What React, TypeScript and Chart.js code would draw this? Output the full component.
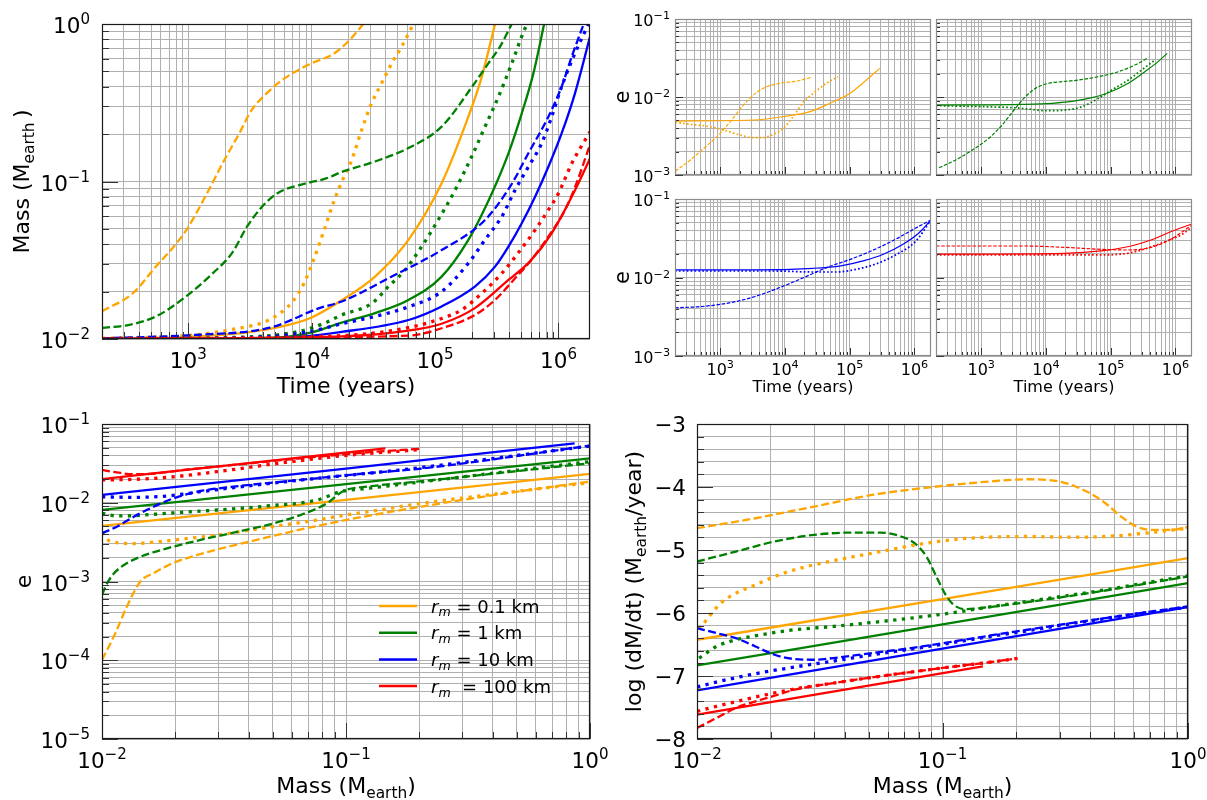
import React, { useEffect, useRef } from 'react';
import { Chart, registerables } from 'chart.js';
Chart.register(...registerables);

type P = [number, number];
const FONT = '"DejaVu Sans", sans-serif';

// ---------------- axis ranges & tick labels ----------------
const T_MIN = 200;
const T_MAX = 1.8e6;
const TIME_TICK_LABELS = [1e3, 1e4, 1e5, 1e6];
const MASS_TL_TICK_LABELS = [1e-2, 1e-1, 1];
const E_TR_TICK_LABELS = [1e-3, 1e-2, 1e-1];
const E_BL_TICK_LABELS = [1e-5, 1e-4, 1e-3, 1e-2, 1e-1];
const MASS_B_TICK_LABELS = [1e-2, 1e-1, 1];
const RATE_TICK_LABELS = [-8, -7, -6, -5, -4, -3];
const LEGEND_LABELS = [' = 0.1 km', ' = 1 km', ' = 10 km', '  = 100 km'];

// ---------------- Top-left: Mass vs Time [t, M] ----------------
const tlOrangeSolid: P[] = [[200, 0.01], [1000, 0.0103], [3000, 0.011], [6000, 0.0121], [10000, 0.0137], [17500, 0.0176], [32600, 0.0249], [60800, 0.0426], [113000, 0.0975], [186000, 0.258], [239000, 0.462], [306000, 1.0]];
const tlOrangeDashed: P[] = [[200, 0.015], [358, 0.0196], [547, 0.0289], [727, 0.0369], [966, 0.0493], [1375, 0.0803], [1960, 0.137], [2600, 0.203], [3220, 0.28], [4275, 0.36], [5680, 0.437], [9300, 0.549], [15300, 0.652], [20300, 0.792], [26200, 1.0]];
const tlOrangeDotted: P[] = [[200, 0.0101], [1110, 0.0106], [2260, 0.0115], [4590, 0.0133], [7020, 0.0173], [8680, 0.0226], [10360, 0.0318], [12370, 0.047], [15300, 0.0765], [17600, 0.1], [21100, 0.137], [25400, 0.212], [30600, 0.314], [36900, 0.421], [44500, 0.562], [53600, 0.718], [66700, 1.0]];
const tlGreenSolid: P[] = [[200, 0.01], [5000, 0.0102], [10000, 0.011], [17500, 0.0127], [32600, 0.0146], [60800, 0.0177], [113000, 0.0249], [186000, 0.0426], [288000, 0.084], [393000, 0.151], [504000, 0.271], [626000, 0.486], [765000, 1.0]];
const tlGreenDashed: P[] = [[200, 0.01175], [333, 0.0123], [547, 0.0139], [966, 0.0187], [1585, 0.0262], [2260, 0.0351], [3000, 0.0518], [3980, 0.0694], [5280, 0.0843], [8100, 0.0953], [13270, 0.105], [17500, 0.115], [32600, 0.134], [60800, 0.163], [113000, 0.223], [204000, 0.41], [270000, 0.562], [336000, 0.718], [418000, 1.0]];
const tlGreenDotted: P[] = [[200, 0.01], [3000, 0.0103], [8000, 0.0112], [13000, 0.0127], [17500, 0.0142], [30600, 0.0168], [41800, 0.0215], [57000, 0.0274], [77800, 0.0386], [106000, 0.057], [145000, 0.088], [198000, 0.144], [254000, 0.223], [326000, 0.345], [418000, 0.562], [536000, 0.94], [560000, 1.0]];
const tlBlueSolid: P[] = [[200, 0.01], [5000, 0.0101], [17500, 0.0111], [60800, 0.0132], [113000, 0.0161], [210000, 0.0215], [306000, 0.0288], [393000, 0.0386], [504000, 0.0543], [646000, 0.08], [828000, 0.124], [1.06e6, 0.202], [1.36e6, 0.363], [1.8e6, 0.83]];
const tlBlueDashed: P[] = [[200, 0.0101], [1110, 0.0106], [4590, 0.0118], [11530, 0.0157], [17500, 0.0173], [44500, 0.0249], [113000, 0.0367], [254000, 0.057], [405000, 0.0927], [570000, 0.151], [828000, 0.258], [1.06e6, 0.4], [1.28e6, 0.62], [1.6e6, 1.0]];
const tlBlueDotted: P[] = [[200, 0.01], [4000, 0.0103], [10000, 0.0112], [17500, 0.0125], [32600, 0.0139], [60800, 0.016], [113000, 0.02], [186000, 0.0303], [254000, 0.0427], [347000, 0.0598], [445000, 0.0883], [570000, 0.124], [731000, 0.175], [881000, 0.258], [1.06e6, 0.4], [1.36e6, 0.652], [1.75e6, 1.0]];
const tlRedSolid: P[] = [[200, 0.01], [17500, 0.0104], [60800, 0.0113], [113000, 0.0125], [210000, 0.0157], [393000, 0.0237], [585000, 0.031], [880000, 0.0469], [1.36e6, 0.088], [1.8e6, 0.14]];
const tlRedDashed: P[] = [[200, 0.01], [60800, 0.0105], [113000, 0.0117], [210000, 0.0142], [306000, 0.0177], [445000, 0.0243], [587000, 0.031], [881000, 0.048], [1.13e6, 0.066], [1.36e6, 0.092], [1.8e6, 0.171]];
const tlRedDotted: P[] = [[200, 0.01], [17500, 0.0105], [60800, 0.0118], [113000, 0.0135], [164000, 0.0153], [239000, 0.0195], [347000, 0.0261], [504000, 0.0377], [646000, 0.0492], [828000, 0.066], [998000, 0.084], [1.28e6, 0.13], [1.8e6, 0.207]];

// ---------------- Top-right: e vs Time [t, e] ----------------
const trOrangeSolid: P[] = [[200, 0.00492], [3260, 0.00507], [10600, 0.0057], [24300, 0.00649], [49300, 0.0083], [100000, 0.0111], [181000, 0.0165], [290000, 0.0233]];
const trOrangeDashed: P[] = [[203, 0.00112], [345, 0.00156], [555, 0.0022], [889, 0.0031], [1425, 0.00482], [2285, 0.00789], [3660, 0.01148], [5220, 0.01355], [8380, 0.015], [15100, 0.016], [25700, 0.0179]];
const trOrangeDotted: P[] = [[203, 0.00474], [345, 0.00447], [701, 0.00416], [1270, 0.00366], [2030, 0.00326], [3260, 0.00301], [4640, 0.00301], [6620, 0.00333], [9420, 0.00397], [13400, 0.0056], [19100, 0.00855], [27300, 0.0111], [43700, 0.015], [66000, 0.0182]];
const trGreenSolid: P[] = [[200, 0.00789], [4280, 0.00805], [12400, 0.0083], [28200, 0.0089], [51000, 0.0098], [91900, 0.01135], [187000, 0.015], [337000, 0.0211], [540000, 0.0284], [743000, 0.0363]];
const trGreenDashed: P[] = [[223, 0.00124], [403, 0.00156], [728, 0.00209], [1310, 0.00296], [2100, 0.00438], [3370, 0.00716], [4810, 0.0101], [6850, 0.0129], [11000, 0.015], [17600, 0.0157], [31800, 0.0165], [64600, 0.0182], [131000, 0.0211], [237000, 0.0257], [380000, 0.0319]];
const trGreenDotted: P[] = [[200, 0.00775], [1160, 0.0075], [3000, 0.0073], [5400, 0.00702], [9770, 0.00667], [19800, 0.0068], [35800, 0.0075], [64600, 0.0096], [103600, 0.0123], [187000, 0.0165], [300000, 0.0222], [481000, 0.0298]];
const trBlueSolid: P[] = [[200, 0.01247], [3370, 0.01247], [27300, 0.0131], [72600, 0.0141], [167000, 0.0164], [337000, 0.0199], [676000, 0.0267], [1.18e6, 0.0372], [1.8e6, 0.054]];
const trBlueDashed: P[] = [[200, 0.00412], [478, 0.00425], [1270, 0.00469], [3370, 0.00569], [8950, 0.00764], [20700, 0.0102], [47700, 0.01374], [95900, 0.0167], [221000, 0.022], [512000, 0.0307], [1.03e6, 0.0424], [1.8e6, 0.054]];
const trBlueDotted: P[] = [[200, 0.0121], [6760, 0.0121], [27300, 0.01175], [63000, 0.01175], [127000, 0.01274], [255000, 0.0149], [512000, 0.0194], [1.03e6, 0.0286], [1.8e6, 0.054]];
const trRedSolid: P[] = [[200, 0.0198], [19000, 0.0203], [77600, 0.022], [207000, 0.0252], [419000, 0.03], [845000, 0.0383], [1.8e6, 0.0481]];
const trRedDashed: P[] = [[200, 0.0252], [4690, 0.0252], [19000, 0.0242], [77600, 0.0228], [180000, 0.0224], [419000, 0.0242], [845000, 0.0307], [1.8e6, 0.0467]];
const trRedDotted: P[] = [[200, 0.0194], [77600, 0.0194], [180000, 0.0203], [364000, 0.0236], [735000, 0.0292], [1.29e6, 0.0358], [1.8e6, 0.0443]];

// ---------------- Bottom-left: e vs Mass [M, e] ----------------
const blOrangeSolid: P[] = [[0.01, 0.00508], [0.1, 0.0109], [1.0, 0.0232]];
const blOrangeDashed: P[] = [[0.01, 0.000101], [0.01135, 0.000221], [0.01265, 0.000482], [0.01436, 0.001], [0.0163, 0.00128], [0.0195, 0.00171], [0.0261, 0.00229], [0.0402, 0.00321], [0.069, 0.00475], [0.119, 0.00668], [0.204, 0.00894], [0.406, 0.01256], [1.0, 0.0186]];
const blOrangeDotted: P[] = [[0.01, 0.0042], [0.01047, 0.00345], [0.0115, 0.00311], [0.0135, 0.00303], [0.0158, 0.00313], [0.0216, 0.00347], [0.0296, 0.00389], [0.0406, 0.00451], [0.0555, 0.00521], [0.076, 0.00604], [0.104, 0.00713], [0.143, 0.00826], [0.195, 0.00964], [0.4, 0.0128], [1.0, 0.018]];
const blGreenSolid: P[] = [[0.01, 0.0081], [0.1, 0.0172], [1.0, 0.0366]];
const blGreenDashed: P[] = [[0.01, 0.000675], [0.0105, 0.00095], [0.0112, 0.00127], [0.0123, 0.00162], [0.0144, 0.00207], [0.0185, 0.00264], [0.0253, 0.00337], [0.0346, 0.00417], [0.0475, 0.00521], [0.065, 0.00698], [0.0836, 0.00984], [0.098, 0.0142], [0.122, 0.016], [0.195, 0.0185], [1.0, 0.0317]];
const blGreenDotted: P[] = [[0.01, 0.00735], [0.0115, 0.0068], [0.0135, 0.00686], [0.0185, 0.00735], [0.0296, 0.00809], [0.0475, 0.0091], [0.076, 0.0108], [0.0948, 0.0138], [0.122, 0.0152], [1.0, 0.0333]];
const blBlueSolid: P[] = [[0.01, 0.01257], [0.1, 0.0272], [0.865, 0.0569]];
const blBlueDashed: P[] = [[0.01, 0.00409], [0.0115, 0.00497], [0.0135, 0.00665], [0.0158, 0.0085], [0.0185, 0.0106], [0.0216, 0.0125], [0.0253, 0.0141], [0.0346, 0.016], [0.065, 0.0195], [0.122, 0.0237], [0.195, 0.0268], [1.0, 0.053]];
const blBlueDotted: P[] = [[0.01, 0.0119], [0.0135, 0.0117], [0.0185, 0.0122], [0.0253, 0.0138], [0.0406, 0.0165], [0.076, 0.0204], [0.167, 0.0261], [1.0, 0.0525]];
const blRedSolid: P[] = [[0.01, 0.02], [0.04, 0.0319], [0.145, 0.049]];
const blRedDashed: P[] = [[0.01, 0.0261], [0.0115, 0.0243], [0.0135, 0.023], [0.0158, 0.0232], [0.0216, 0.0261], [0.0346, 0.0302], [0.065, 0.0366], [0.122, 0.0436], [0.2, 0.0485]];
const blRedDotted: P[] = [[0.01, 0.0195], [0.0135, 0.0198], [0.0185, 0.021], [0.0296, 0.0248], [0.0555, 0.0323], [0.104, 0.0404], [0.195, 0.0468]];

// ---------------- Bottom-right: log(dM/dt) vs Mass [M, log rate] ----------------
const brOrangeSolid: P[] = [[0.01, -6.425], [0.1, -5.78], [1.0, -5.13]];
const brOrangeDashed: P[] = [[0.01, -4.654], [0.0173, -4.496], [0.0299, -4.311], [0.0516, -4.126], [0.0893, -4.004], [0.154, -3.914], [0.222, -3.877], [0.267, -3.888], [0.32, -3.941], [0.399, -4.099], [0.461, -4.258], [0.534, -4.469], [0.617, -4.628], [0.714, -4.681], [0.857, -4.681], [1.0, -4.638]];
const brOrangeDotted: P[] = [[0.0102, -6.266], [0.0112, -6.055], [0.0125, -5.844], [0.0144, -5.685], [0.0173, -5.553], [0.0207, -5.421], [0.0249, -5.315], [0.0299, -5.236], [0.0385, -5.146], [0.0516, -5.051], [0.069, -4.956], [0.0893, -4.882], [0.128, -4.813], [0.222, -4.786], [0.32, -4.797], [0.461, -4.786], [0.665, -4.734], [1.0, -4.654]];
const brGreenSolid: P[] = [[0.01, -6.832], [0.1, -6.18], [1.0, -5.526]];
const brGreenDashed: P[] = [[0.01, -5.183], [0.0144, -5.024], [0.0207, -4.866], [0.0299, -4.76], [0.043, -4.723], [0.0556, -4.723], [0.0667, -4.776], [0.077, -4.892], [0.086, -5.104], [0.0944, -5.421], [0.103, -5.711], [0.111, -5.87], [0.124, -5.939], [0.154, -5.907], [0.222, -5.828], [0.32, -5.738], [0.461, -5.643], [0.665, -5.537], [1.0, -5.421]];
const brGreenDotted: P[] = [[0.0102, -6.716], [0.012, -6.531], [0.0144, -6.425], [0.0173, -6.361], [0.0249, -6.266], [0.0359, -6.214], [0.0516, -6.15], [0.0744, -6.081], [0.107, -6.002], [0.154, -5.907], [0.222, -5.817], [0.32, -5.727], [0.461, -5.632], [0.665, -5.526], [1.0, -5.41]];
const brBlueSolid: P[] = [[0.01, -7.228], [0.1, -6.567], [1.0, -5.907]];
const brBlueDashed: P[] = [[0.01, -6.24], [0.012, -6.319], [0.0144, -6.399], [0.0173, -6.531], [0.0207, -6.663], [0.0249, -6.731], [0.0299, -6.742], [0.0359, -6.716], [0.0516, -6.636], [0.0744, -6.557], [0.107, -6.462], [0.154, -6.362], [0.222, -6.266], [0.32, -6.171], [0.461, -6.081], [0.665, -5.992], [1.0, -5.896]];
const brBlueDotted: P[] = [[0.01, -7.175], [0.012, -7.096], [0.0173, -6.964], [0.0249, -6.858], [0.0359, -6.763], [0.0516, -6.663], [0.0744, -6.573], [0.107, -6.478], [0.154, -6.377], [0.222, -6.282], [0.32, -6.182], [0.461, -6.087], [0.665, -5.997], [1.0, -5.907]];
const brRedSolid: P[] = [[0.01, -7.614], [0.04, -7.218], [0.146, -6.848]];
const brRedDashed: P[] = [[0.01, -7.825], [0.012, -7.667], [0.0144, -7.508], [0.0173, -7.403], [0.0207, -7.313], [0.0249, -7.218], [0.0359, -7.112], [0.0516, -7.022], [0.0744, -6.938], [0.107, -6.858], [0.154, -6.784], [0.192, -6.732]];
const brRedDotted: P[] = [[0.01, -7.561], [0.012, -7.482], [0.0173, -7.334], [0.0249, -7.207], [0.0359, -7.112], [0.0516, -7.022], [0.0744, -6.938], [0.107, -6.858], [0.154, -6.784], [0.207, -6.716]];

// ---------------- styling ----------------
const COL = { orange: '#ffa500', green: '#008000', blue: '#0000ff', red: '#ff0000' };
const GRID = '#b0b0b0';
const TICK = '#333333';

type Seg = { t: string; s?: number; dy?: number; it?: boolean };
const TIME_TITLE: Seg[] = [{ t: 'Time (years)' }];
const MASS_TITLE_TL: Seg[] = [{ t: 'Mass (M' }, { t: 'earth', s: 0.7, dy: 0.22 }, { t: '\u2009)' }];
const MASS_TITLE_B: Seg[] = [{ t: 'Mass (M' }, { t: 'earth', s: 0.7, dy: 0.22 }, { t: ')' }];
const E_TITLE: Seg[] = [{ t: 'e' }];
const RATE_TITLE: Seg[] = [{ t: 'log (dM/dt) (M' }, { t: 'earth', s: 0.7, dy: 0.22 }, { t: '/year)' }];

function pts(a: P[]) {
  return a.map(([x, y]) => ({ x, y }));
}

function line(data: P[], color: string, kind: string, thin = false) {
  const width = kind === 'dotted' ? (thin ? 1.7 : 3.3) : thin ? 1.2 : 2.3;
  const dash = kind === 'dashed' ? (thin ? [3.6, 1.6] : [8, 3.5]) : kind === 'dotted' ? (thin ? [1.7, 2.2] : [3.3, 5.4]) : [];
  return {
    data: pts(data),
    borderColor: color,
    backgroundColor: color,
    borderWidth: width,
    borderDash: dash,
    borderCapStyle: 'butt',
    borderJoinStyle: 'round',
    showLine: true,
    pointRadius: 0,
    pointHoverRadius: 0,
    fill: false,
    cubicInterpolationMode: 'monotone',
  };
}

function logTicks(min: number, max: number) {
  const out: { value: number; major: boolean }[] = [];
  for (let n = Math.floor(Math.log10(min)); n <= Math.ceil(Math.log10(max)); n++) {
    for (let k = 1; k <= 9; k++) {
      const v = parseFloat((k * Math.pow(10, n)).toPrecision(6));
      if (v >= min * 0.9999 && v <= max * 1.0001) out.push({ value: v, major: k === 1 });
    }
  }
  return out;
}
function linTicks(min: number, max: number, step: number) {
  const out: { value: number; major: boolean }[] = [];
  const n = Math.round((max - min) / step);
  for (let i = 0; i <= n; i++) {
    const v = parseFloat((min + i * step).toFixed(6));
    out.push({ value: v, major: Math.abs(v - Math.round(v)) < 1e-6 });
  }
  return out;
}

function fontStr(size: number, italic?: boolean) {
  return `${italic ? 'italic ' : ''}${size}px ${FONT}`;
}
function drawRich(ctx: CanvasRenderingContext2D, segs: Seg[], x: number, y: number, size: number, align: string) {
  let w = 0;
  for (const g of segs) {
    ctx.font = fontStr(size * (g.s || 1), g.it);
    w += ctx.measureText(g.t).width;
  }
  let cx = align === 'center' ? x - w / 2 : align === 'right' ? x - w : x;
  ctx.textAlign = 'left';
  ctx.textBaseline = 'alphabetic';
  for (const g of segs) {
    ctx.font = fontStr(size * (g.s || 1), g.it);
    ctx.fillText(g.t, cx, y + (g.dy || 0) * size);
    cx += ctx.measureText(g.t).width;
  }
}
function labelSegs(fmt: string, v: number): Seg[] {
  if (fmt === 'pow') {
    const e = Math.round(Math.log10(v));
    return [{ t: '10' }, { t: e < 0 ? '\u2212' + -e : String(e), s: 0.7, dy: -0.42 }];
  }
  return [{ t: v < 0 ? '\u2212' + -v : String(v) }];
}

function axisOpts(ax: any) {
  return {
    type: ax.type,
    min: ax.min,
    max: ax.max,
    afterBuildTicks: (s: any) => {
      s.ticks = ax.ticks.map((t: any) => ({ value: t.value, major: t.major }));
    },
    afterFit: (s: any) => {
      if (s.isHorizontal()) s.height = 0;
      else s.width = 0;
    },
    ticks: { display: false },
    grid: { color: GRID, lineWidth: 1, drawTicks: false },
    border: { display: false },
    title: { display: false },
  };
}

function makeDeco(spec: any) {
  return {
    id: 'deco',
    afterDraw(chart: any) {
      const ctx: CanvasRenderingContext2D = chart.ctx;
      const a = chart.chartArea;
      const xs = chart.scales.x;
      const ys = chart.scales.y;
      ctx.save();
      ctx.setLineDash([]);
      ctx.lineWidth = 1;
      ctx.strokeStyle = TICK;
      for (const t of spec.x.ticks) {
        const px = Math.round(xs.getPixelForValue(t.value)) + 0.5;
        const len = t.major ? spec.majorLen : spec.minorLen;
        ctx.beginPath();
        ctx.moveTo(px, a.bottom);
        ctx.lineTo(px, a.bottom - len);
        ctx.stroke();
      }
      for (const t of spec.y.ticks) {
        const py = Math.round(ys.getPixelForValue(t.value)) + 0.5;
        const len = t.major ? spec.majorLen : spec.minorLen;
        ctx.beginPath();
        ctx.moveTo(a.left, py);
        ctx.lineTo(a.left + len, py);
        ctx.stroke();
      }
      ctx.strokeStyle = spec.frame;
      ctx.lineWidth = 1.2;
      ctx.strokeRect(a.left + 0.5, a.top + 0.5, a.right - a.left - 1, a.bottom - a.top - 1);
      ctx.fillStyle = '#000';
      if (spec.x.labels) {
        for (const v of spec.x.labels) {
          drawRich(ctx, labelSegs(spec.x.fmt, v), xs.getPixelForValue(v), a.bottom + spec.xLabelBase, spec.tickFont, 'center');
        }
      }
      if (spec.y.labels) {
        for (const v of spec.y.labels) {
          const off = spec.y.fmt === 'pow' ? 0.43 : 0.36;
          drawRich(ctx, labelSegs(spec.y.fmt, v), a.left - spec.yLabelGap, ys.getPixelForValue(v) + off * spec.tickFont, spec.tickFont, 'right');
        }
      }
      if (spec.xTitle) {
        drawRich(ctx, spec.xTitle, (a.left + a.right) / 2, a.bottom + spec.xTitleBase, spec.xTitleFont, 'center');
      }
      if (spec.yTitle) {
        ctx.save();
        ctx.translate(a.left + spec.yTitleX, (a.top + a.bottom) / 2);
        ctx.rotate(-Math.PI / 2);
        drawRich(ctx, spec.yTitle, 0, 0, spec.yTitleFont, 'center');
        ctx.restore();
      }
      if (spec.legend) {
        const cols = [COL.orange, COL.green, COL.blue, COL.red];
        LEGEND_LABELS.forEach((lab, i) => {
          const y = a.top + 182 + i * 26.7;
          ctx.strokeStyle = cols[i];
          ctx.lineWidth = 2.5;
          ctx.beginPath();
          ctx.moveTo(a.left + 277, y);
          ctx.lineTo(a.left + 315, y);
          ctx.stroke();
          ctx.fillStyle = '#000';
          drawRich(ctx, [{ t: 'r', it: true }, { t: 'm', it: true, s: 0.7, dy: 0.22 }, { t: lab }], a.left + 329, y + 6.5, 18, 'left');
        });
      }
      ctx.restore();
    },
  };
}

function Panel({ spec }: { spec: any }) {
  const ref = useRef<HTMLCanvasElement>(null);
  useEffect(() => {
    const chart = new Chart(ref.current as HTMLCanvasElement, {
      type: 'scatter',
      data: { datasets: spec.datasets },
      options: {
        responsive: false,
        maintainAspectRatio: false,
        animation: false,
        events: [],
        layout: { padding: spec.pad, autoPadding: false },
        plugins: { legend: { display: false }, tooltip: { enabled: false }, title: { display: false } },
        scales: { x: axisOpts(spec.x), y: axisOpts(spec.y) },
      } as any,
      plugins: [makeDeco(spec)],
    } as any);
    return () => chart.destroy();
  }, []);
  return (
    <canvas
      ref={ref}
      width={spec.w}
      height={spec.h}
      style={{ position: 'absolute', left: spec.left, top: spec.top, width: spec.w, height: spec.h }}
    />
  );
}

const timeAxis = { type: 'logarithmic', min: T_MIN, max: T_MAX, ticks: logTicks(T_MIN, T_MAX), fmt: 'pow' };
const massAxis = { type: 'logarithmic', min: 0.01, max: 1, ticks: logTicks(0.01, 1), fmt: 'pow' };
const eTrAxis = { type: 'logarithmic', min: 1e-3, max: 1e-1, ticks: logTicks(1e-3, 1e-1), fmt: 'pow' };

const BIG = { tickFont: 21.5, xLabelBase: 29, yLabelGap: 12, xTitleFont: 22, xTitleBase: 54, yTitleFont: 22, majorLen: 16, minorLen: 7, frame: '#1a1a1a' };
const SMALL = { tickFont: 16, xLabelBase: 19, yLabelGap: 5, xTitleFont: 16, xTitleBase: 36, yTitleFont: 21, majorLen: 8, minorLen: 4, frame: '#8c8c8c' };

const SPECS: any[] = [
  {
    ...BIG,
    left: 0, top: 0, w: 600, h: 400,
    pad: { left: 102, top: 24, right: 10, bottom: 61 },
    x: { ...timeAxis, labels: TIME_TICK_LABELS },
    y: { ...massAxis, labels: MASS_TL_TICK_LABELS },
    xTitle: TIME_TITLE, yTitle: MASS_TITLE_TL, yTitleX: -73,
    datasets: [
      line(tlRedSolid, COL.red, 'solid'), line(tlRedDashed, COL.red, 'dashed'), line(tlRedDotted, COL.red, 'dotted'),
      line(tlBlueSolid, COL.blue, 'solid'), line(tlBlueDashed, COL.blue, 'dashed'), line(tlBlueDotted, COL.blue, 'dotted'),
      line(tlGreenSolid, COL.green, 'solid'), line(tlGreenDashed, COL.green, 'dashed'), line(tlGreenDotted, COL.green, 'dotted'),
      line(tlOrangeSolid, COL.orange, 'solid'), line(tlOrangeDashed, COL.orange, 'dashed'), line(tlOrangeDotted, COL.orange, 'dotted'),
    ],
  },
  {
    ...SMALL,
    left: 600, top: 0, w: 334, h: 185,
    pad: { left: 75, top: 19, right: 3, bottom: 10 },
    x: { ...timeAxis, labels: null },
    y: { ...eTrAxis, labels: E_TR_TICK_LABELS },
    yTitle: E_TITLE, yTitleX: -46,
    datasets: [line(trOrangeSolid, COL.orange, 'solid', true), line(trOrangeDashed, COL.orange, 'dashed', true), line(trOrangeDotted, COL.orange, 'dotted', true)],
  },
  {
    ...SMALL,
    left: 934, top: 0, w: 273, h: 185,
    pad: { left: 2, top: 19, right: 15, bottom: 10 },
    x: { ...timeAxis, labels: null },
    y: { ...eTrAxis, labels: null },
    datasets: [line(trGreenSolid, COL.green, 'solid', true), line(trGreenDashed, COL.green, 'dashed', true), line(trGreenDotted, COL.green, 'dotted', true)],
  },
  {
    ...SMALL,
    left: 600, top: 185, w: 334, h: 215,
    pad: { left: 75, top: 14, right: 3, bottom: 44 },
    x: { ...timeAxis, labels: TIME_TICK_LABELS },
    y: { ...eTrAxis, labels: E_TR_TICK_LABELS },
    xTitle: TIME_TITLE, yTitle: E_TITLE, yTitleX: -46,
    datasets: [line(trBlueSolid, COL.blue, 'solid', true), line(trBlueDashed, COL.blue, 'dashed', true), line(trBlueDotted, COL.blue, 'dotted', true)],
  },
  {
    ...SMALL,
    left: 934, top: 185, w: 273, h: 215,
    pad: { left: 2, top: 14, right: 15, bottom: 44 },
    x: { ...timeAxis, labels: TIME_TICK_LABELS },
    y: { ...eTrAxis, labels: null },
    xTitle: TIME_TITLE,
    datasets: [line(trRedSolid, COL.red, 'solid', true), line(trRedDashed, COL.red, 'dashed', true), line(trRedDotted, COL.red, 'dotted', true)],
  },
  {
    ...BIG,
    left: 0, top: 400, w: 615, h: 400,
    pad: { left: 102, top: 24, right: 25, bottom: 61 },
    x: { ...massAxis, labels: MASS_B_TICK_LABELS },
    y: { type: 'logarithmic', min: 1e-5, max: 1e-1, ticks: logTicks(1e-5, 1e-1), fmt: 'pow', labels: E_BL_TICK_LABELS },
    xTitle: MASS_TITLE_B, yTitle: E_TITLE, yTitleX: -71,
    legend: true,
    datasets: [
      line(blRedSolid, COL.red, 'solid'), line(blRedDashed, COL.red, 'dashed'), line(blRedDotted, COL.red, 'dotted'),
      line(blBlueSolid, COL.blue, 'solid'), line(blBlueDashed, COL.blue, 'dashed'), line(blBlueDotted, COL.blue, 'dotted'),
      line(blGreenSolid, COL.green, 'solid'), line(blGreenDashed, COL.green, 'dashed'), line(blGreenDotted, COL.green, 'dotted'),
      line(blOrangeSolid, COL.orange, 'solid'), line(blOrangeDashed, COL.orange, 'dashed'), line(blOrangeDotted, COL.orange, 'dotted'),
    ],
  },
  {
    ...BIG,
    yLabelGap: 11,
    left: 615, top: 400, w: 592, h: 400,
    pad: { left: 82, top: 24, right: 19, bottom: 61 },
    x: { ...massAxis, labels: MASS_B_TICK_LABELS },
    y: { type: 'linear', min: -8, max: -3, ticks: linTicks(-8, -3, 0.2), fmt: 'int', labels: RATE_TICK_LABELS },
    xTitle: MASS_TITLE_B, yTitle: RATE_TITLE, yTitleX: -56,
    datasets: [
      line(brRedSolid, COL.red, 'solid'), line(brRedDashed, COL.red, 'dashed'), line(brRedDotted, COL.red, 'dotted'),
      line(brBlueSolid, COL.blue, 'solid'), line(brBlueDashed, COL.blue, 'dashed'), line(brBlueDotted, COL.blue, 'dotted'),
      line(brGreenSolid, COL.green, 'solid'), line(brGreenDashed, COL.green, 'dashed'), line(brGreenDotted, COL.green, 'dotted'),
      line(brOrangeSolid, COL.orange, 'solid'), line(brOrangeDashed, COL.orange, 'dashed'), line(brOrangeDotted, COL.orange, 'dotted'),
    ],
  },
];

export default function App() {
  return (
    <div style={{ position: 'absolute', left: 0, top: 0, width: 1207, height: 800, background: '#ffffff', overflow: 'hidden' }}>
      {SPECS.map((s, i) => (
        <Panel key={i} spec={s} />
      ))}
    </div>
  );
}
